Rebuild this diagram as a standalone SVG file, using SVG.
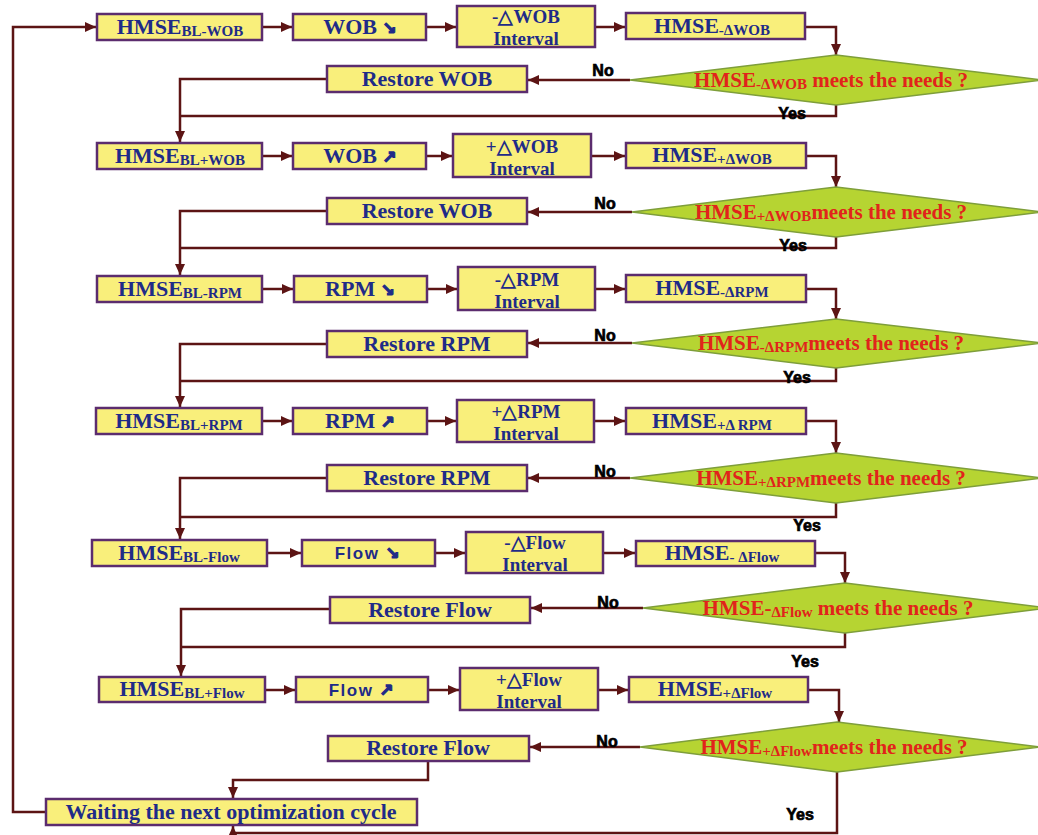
<svg xmlns="http://www.w3.org/2000/svg" width="1038" height="835" viewBox="0 0 1038 835">
<style>
.bx{fill:#F9EF7B;stroke:#5B2C6E;stroke-width:2.5}
.t{font-family:"Liberation Serif","Times New Roman",serif;font-weight:bold;fill:#1F2B88;font-size:22px;text-anchor:middle}
.it{font-size:19px}
.sf{font-family:"Liberation Sans",Arial,sans-serif;font-size:17px;letter-spacing:1.5px}
.ar{font-family:"DejaVu Sans",sans-serif;font-size:17px;stroke:#1F2B88;stroke-width:1.2}
.s{font-size:15px}
.dm{fill:#B6D432;stroke:#7E9E3A;stroke-width:1.5}
.dt{font-family:"Liberation Serif","Times New Roman",serif;font-weight:bold;fill:#E1241B;font-size:21px;text-anchor:middle}
.lb{font-family:"Liberation Sans",Arial,sans-serif;font-weight:bold;font-size:16px;fill:#000;stroke:#000;stroke-width:0.7;text-anchor:middle}
.c{stroke:#5C1414;stroke-width:2.5;fill:none}
.ca{stroke:#5C1414;stroke-width:2.5;fill:none;marker-end:url(#ah)}
</style>
<defs>
<marker id="ah" markerUnits="userSpaceOnUse" markerWidth="12" markerHeight="10" refX="11" refY="5" orient="auto">
<path d="M0,0 L11,5 L0,10 z" fill="#5C1414"/>
</marker>
</defs>

<g id="connectors">
<path class="ca" d="M46,812 H13 V27 H96"/>
<!-- block 1 -->
<path class="ca" d="M262,27 H292"/>
<path class="ca" d="M426,27 H456"/>
<path class="ca" d="M595,27 H625"/>
<path class="ca" d="M805,27 H836 V55"/>
<path class="ca" d="M630,80 H528"/>
<path class="ca" d="M327,79 H180 V142"/>
<path class="c" d="M836,105 V116 H180"/>
<!-- block 2 -->
<path class="ca" d="M262,156 H292"/>
<path class="ca" d="M426,156 H452"/>
<path class="ca" d="M591,156 H625"/>
<path class="ca" d="M806,156 H836 V187"/>
<path class="ca" d="M632,212 H528"/>
<path class="ca" d="M327,211 H180 V275"/>
<path class="c" d="M836,237 V248 H180"/>
<!-- block 3 -->
<path class="ca" d="M262,289 H293"/>
<path class="ca" d="M427,289 H457"/>
<path class="ca" d="M595,289 H625"/>
<path class="ca" d="M806,289 H836 V319"/>
<path class="ca" d="M632,343 H528"/>
<path class="ca" d="M327,344 H180 V407"/>
<path class="c" d="M836,368 V381 H180"/>
<!-- block 4 -->
<path class="ca" d="M262,421 H292"/>
<path class="ca" d="M427,421 H456"/>
<path class="ca" d="M594,421 H625"/>
<path class="ca" d="M806,421 H836 V453"/>
<path class="ca" d="M630,478 H528"/>
<path class="ca" d="M327,478 H180 V539"/>
<path class="c" d="M836,503 V517 H180"/>
<!-- block 5 -->
<path class="ca" d="M267,553 H301"/>
<path class="ca" d="M435,553 H465"/>
<path class="ca" d="M603,553 H635"/>
<path class="ca" d="M815,553 H845 V583"/>
<path class="ca" d="M643,608 H531"/>
<path class="ca" d="M330,609 H181 V676"/>
<path class="c" d="M845,633 V647 H181"/>
<!-- block 6 -->
<path class="ca" d="M265,690 H295"/>
<path class="ca" d="M428,690 H459"/>
<path class="ca" d="M598,690 H628"/>
<path class="ca" d="M808,690 H839 V722"/>
<path class="ca" d="M640,747 H530"/>
<path class="ca" d="M428,761 V780 H233 V798"/>
<path class="ca" d="M837,772 V833 H233 V826"/>
</g>

<!-- Block 1 -->
<g id="hmse-bl-wob"><rect class="bx" x="97" y="14" width="165" height="26"/><text class="t" x="180" y="34">HMSE<tspan class="s" dy="2">BL-WOB</tspan></text></g>
<g id="wob-down"><rect class="bx" x="293" y="14" width="133" height="26"/><text class="t" x="360" y="34">WOB <tspan class="ar">↘</tspan></text></g>
<g id="minus-wob-interval"><rect class="bx" x="457" y="6" width="138" height="41"/><text class="t it" x="526" y="23">-△WOB</text><text class="t it" x="526" y="45">Interval</text></g>
<g id="hmse-minus-wob"><rect class="bx" x="626" y="13" width="179" height="26"/><text class="t" x="712" y="33">HMSE<tspan class="s" dy="2">-ΔWOB</tspan></text></g>
<g id="dec-minus-wob"><polygon class="dm" points="836,55 1042,80 836,105 630,80"/><text class="dt" x="831" y="87">HMSE<tspan class="s" dy="2">-ΔWOB</tspan><tspan dy="-2"> meets the needs ?</tspan></text></g>
<g id="restore-wob-1"><rect class="bx" x="327" y="66" width="200" height="26"/><text class="t" x="427" y="86">Restore WOB</text></g>

<!-- Block 2 -->
<g id="hmse-bl-plus-wob"><rect class="bx" x="97" y="143" width="165" height="26"/><text class="t" x="180" y="163">HMSE<tspan class="s" dy="2">BL+WOB</tspan></text></g>
<g id="wob-up"><rect class="bx" x="293" y="143" width="133" height="26"/><text class="t" x="360" y="163">WOB <tspan class="ar">↗</tspan></text></g>
<g id="plus-wob-interval"><rect class="bx" x="453" y="134" width="138" height="43"/><text class="t it" x="522" y="153">+△WOB</text><text class="t it" x="522" y="175">Interval</text></g>
<g id="hmse-plus-wob"><rect class="bx" x="626" y="143" width="180" height="25"/><text class="t" x="712" y="162">HMSE<tspan class="s" dy="2">+ΔWOB</tspan></text></g>
<g id="dec-plus-wob"><polygon class="dm" points="836,187 1042,212 836,237 632,212"/><text class="dt" x="831" y="219">HMSE<tspan class="s" dy="2">+ΔWOB</tspan><tspan dy="-2">meets the needs ?</tspan></text></g>
<g id="restore-wob-2"><rect class="bx" x="327" y="198" width="200" height="26"/><text class="t" x="427" y="218">Restore WOB</text></g>

<!-- Block 3 -->
<g id="hmse-bl-rpm"><rect class="bx" x="97" y="276" width="165" height="26"/><text class="t" x="180" y="296">HMSE<tspan class="s" dy="2">BL-RPM</tspan></text></g>
<g id="rpm-down"><rect class="bx" x="294" y="276" width="133" height="26"/><text class="t" x="360" y="296">RPM <tspan class="ar">↘</tspan></text></g>
<g id="minus-rpm-interval"><rect class="bx" x="458" y="267" width="137" height="43"/><text class="t it" x="527" y="286">-△RPM</text><text class="t it" x="527" y="308">Interval</text></g>
<g id="hmse-minus-rpm"><rect class="bx" x="626" y="275" width="180" height="27"/><text class="t" x="712" y="295">HMSE<tspan class="s" dy="2">-ΔRPM</tspan></text></g>
<g id="dec-minus-rpm"><polygon class="dm" points="836,319 1042,343 836,368 632,343"/><text class="dt" x="831" y="350">HMSE<tspan class="s" dy="2">-ΔRPM</tspan><tspan dy="-2">meets the needs ?</tspan></text></g>
<g id="restore-rpm-1"><rect class="bx" x="327" y="331" width="200" height="26"/><text class="t" x="427" y="351">Restore RPM</text></g>

<!-- Block 4 -->
<g id="hmse-bl-plus-rpm"><rect class="bx" x="96" y="408" width="166" height="26"/><text class="t" x="179" y="428">HMSE<tspan class="s" dy="2">BL+RPM</tspan></text></g>
<g id="rpm-up"><rect class="bx" x="293" y="408" width="134" height="26"/><text class="t" x="360" y="428">RPM <tspan class="ar">↗</tspan></text></g>
<g id="plus-rpm-interval"><rect class="bx" x="457" y="400" width="137" height="42"/><text class="t it" x="526" y="418">+△RPM</text><text class="t it" x="526" y="440">Interval</text></g>
<g id="hmse-plus-rpm"><rect class="bx" x="626" y="408" width="180" height="26"/><text class="t" x="712" y="428">HMSE<tspan class="s" dy="2">+Δ RPM</tspan></text></g>
<g id="dec-plus-rpm"><polygon class="dm" points="836,453 1042,478 836,503 630,478"/><text class="dt" x="831" y="485">HMSE<tspan class="s" dy="2">+ΔRPM</tspan><tspan dy="-2">meets the needs ?</tspan></text></g>
<g id="restore-rpm-2"><rect class="bx" x="327" y="465" width="200" height="26"/><text class="t" x="427" y="485">Restore RPM</text></g>

<!-- Block 5 -->
<g id="hmse-bl-flow"><rect class="bx" x="92" y="540" width="175" height="26"/><text class="t" x="179" y="560">HMSE<tspan class="s" dy="2">BL-Flow</tspan></text></g>
<g id="flow-down"><rect class="bx" x="302" y="540" width="133" height="26"/><text class="t sf" x="368" y="559">Flow <tspan class="ar">↘</tspan></text></g>
<g id="minus-flow-interval"><rect class="bx" x="466" y="532" width="137" height="41"/><text class="t it" x="535" y="549">-△Flow</text><text class="t it" x="535" y="571">Interval</text></g>
<g id="hmse-minus-flow"><rect class="bx" x="636" y="541" width="179" height="25"/><text class="t" x="722" y="560">HMSE<tspan class="s" dy="2">- ΔFlow</tspan></text></g>
<g id="dec-minus-flow"><polygon class="dm" points="845,583 1048,608 845,633 643,608"/><text class="dt" x="838" y="615">HMSE-<tspan class="s" dy="2">ΔFlow</tspan><tspan dy="-2"> meets the needs ?</tspan></text></g>
<g id="restore-flow-1"><rect class="bx" x="330" y="597" width="200" height="26"/><text class="t" x="430" y="617">Restore Flow</text></g>

<!-- Block 6 -->
<g id="hmse-bl-plus-flow"><rect class="bx" x="99" y="677" width="166" height="25"/><text class="t" x="182" y="696">HMSE<tspan class="s" dy="2">BL+Flow</tspan></text></g>
<g id="flow-up"><rect class="bx" x="296" y="677" width="132" height="25"/><text class="t sf" x="362" y="696">Flow <tspan class="ar">↗</tspan></text></g>
<g id="plus-flow-interval"><rect class="bx" x="460" y="668" width="138" height="42"/><text class="t it" x="529" y="686">+△Flow</text><text class="t it" x="529" y="708">Interval</text></g>
<g id="hmse-plus-flow"><rect class="bx" x="629" y="677" width="179" height="25"/><text class="t" x="715" y="696">HMSE<tspan class="s" dy="2">+ΔFlow</tspan></text></g>
<g id="dec-plus-flow"><polygon class="dm" points="837,722 1040,747 837,772 640,747"/><text class="dt" x="834" y="754">HMSE<tspan class="s" dy="2">+ΔFlow</tspan><tspan dy="-2">meets the needs ?</tspan></text></g>
<g id="restore-flow-2"><rect class="bx" x="328" y="736" width="201" height="25"/><text class="t" x="428" y="755">Restore Flow</text></g>

<g id="waiting"><rect class="bx" x="46" y="799" width="371" height="26"/><text class="t" x="231" y="819">Waiting the next optimization cycle</text></g>

<g id="labels">
<text class="lb" x="603" y="76">No</text>
<text class="lb" x="792" y="119">Yes</text>
<text class="lb" x="605" y="209">No</text>
<text class="lb" x="793" y="251">Yes</text>
<text class="lb" x="605" y="341">No</text>
<text class="lb" x="797" y="383">Yes</text>
<text class="lb" x="605" y="477">No</text>
<text class="lb" x="807" y="531">Yes</text>
<text class="lb" x="608" y="608">No</text>
<text class="lb" x="805" y="667">Yes</text>
<text class="lb" x="607" y="747">No</text>
<text class="lb" x="800" y="820">Yes</text>
</g>
</svg>
